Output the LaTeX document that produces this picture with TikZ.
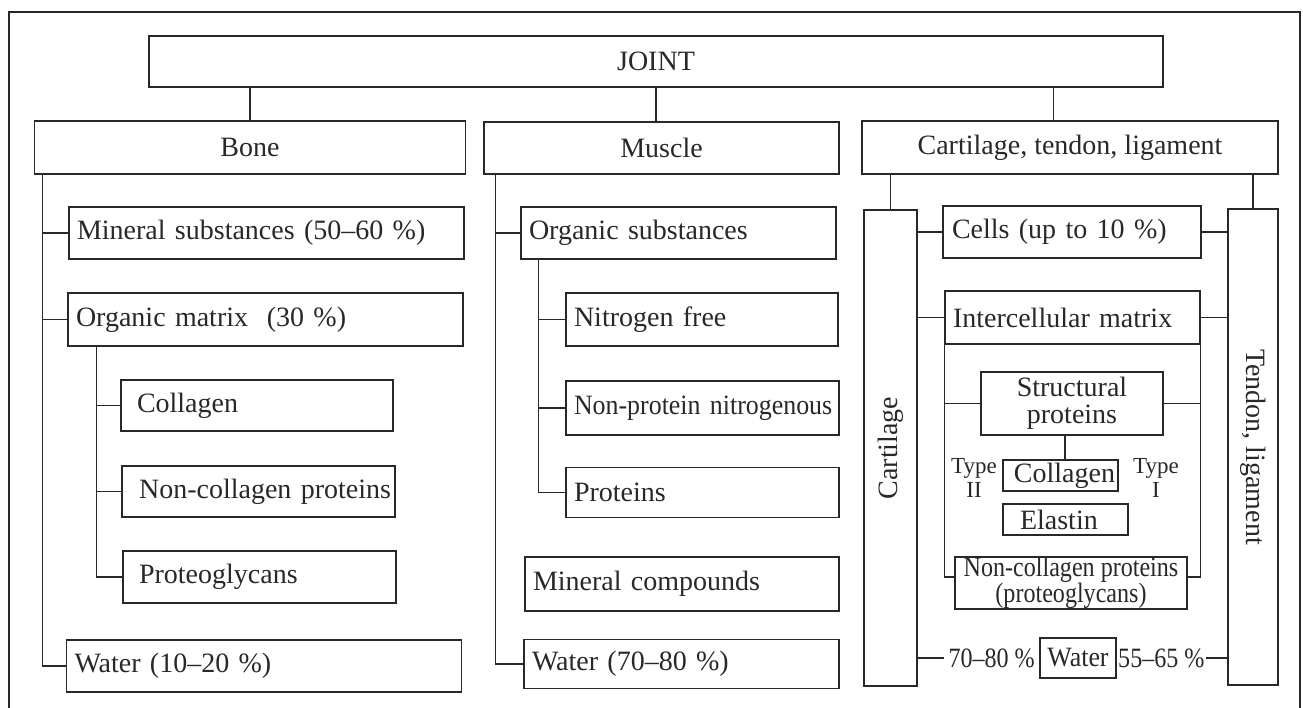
\documentclass[tikz,border=0pt]{standalone}
\usepackage{fontspec}
\setmainfont{Liberation Serif}
\newfontfamily\tightserif[FakeStretch=0.925]{Liberation Serif}
\newfontfamily\condserif[FakeStretch=0.86]{Liberation Serif}
\usepackage{tikz}
\definecolor{inkgray}{RGB}{40,40,40}

\begin{document}
\begin{tikzpicture}[x=1pt,y=-1pt,color=inkgray,line width=1.2pt,
    box/.style={draw,inner sep=0pt,minimum height=52pt,font=\fontsize{28}{27}\selectfont},
    lbox/.style={box,inner xsep=8pt,text width=#1,align=left},
    cbox/.style={box,minimum width=#1},
    side/.style={box,minimum width=476pt},
    pct/.style={inner xsep=1pt,inner ysep=0pt,font=\fontsize{28}{25}\condserif},
    typelab/.style={inner sep=0pt,align=center,font=\fontsize{23}{24}\selectfont}]
  \useasboundingbox (0,0) rectangle (1303,708);
  \draw (9,708) -- (9,12) -- (1300,12) -- (1300,708);
  % top level
  \node[cbox=1014pt,minimum height=51pt] (joint) at (656,61.5) {JOINT};
  \node[cbox=431pt,minimum height=53pt] (bone) at (250,147.5) {Bone};
  \node[cbox=355pt] (muscle) at (661.5,148) {Muscle};
  \node[cbox=416pt,minimum height=53pt] (ctl) at (1070,147.5) {Cartilage, tendon, ligament};
  \coordinate (ct) at ([xshift=-16.5pt]ctl.north);
  \draw (bone.north) -- (bone.north |- joint.south);
  \draw (joint.south) -- (joint.south |- muscle.north);
  \draw (ct) -- (ct |- joint.south);
  % bone
  \node[lbox=379pt] (bmin) at (266.5,233) {Mineral substances (50–60~\%)};
  \node[lbox=379pt,minimum height=53pt] (bmat) at (265.5,319.5) {Organic matrix\ \ (30~\%)};
  \node[lbox=240pt,inner xsep=16pt,minimum height=51pt] (bcol) at (257,405.5) {Collagen};
  \node[box,inner xsep=4pt,text width=265pt,align=right,minimum height=51pt] (bnon) at (258.5,491.5) {Non-collagen proteins};
  \node[lbox=241pt,inner xsep=16pt] (bpg) at (259.5,577) {Proteoglycans};
  \node[lbox=379pt] (bwat) at (264,666) {Water (10–20~\%)};
  \coordinate (bt) at ([xshift=8.5pt]bone.south west);
  \draw (bt) |- (bwat.west);
  \foreach \k in {bmin,bmat}
    \draw (bt |- \k.west) -- (\k.west);
  \coordinate (mt) at ([xshift=29pt]bmat.south west);
  \draw (mt) |- (bpg.west);
  \foreach \k in {bcol,bnon}
    \draw (mt |- \k.west) -- (\k.west);
  % muscle
  \node[lbox=299pt] (morg) at (678.5,233) {Organic substances};
  \node[lbox=256pt,minimum height=53pt] (mnf) at (702,319.5) {Nitrogen free};
  \node[lbox=257pt,minimum height=54pt,font=\fontsize{28}{27}\tightserif] (mnp) at (702.5,408) {\mbox{Non-protein nitrogenous}};
  \node[lbox=257pt,minimum height=50pt] (mpro) at (702.5,492.5) {Proteins};
  \node[lbox=298pt,minimum height=54pt] (mmin) at (682,584) {Mineral compounds};
  \node[lbox=299pt,minimum height=49pt] (mwat) at (681.5,664) {Water (70–80~\%)};
  \coordinate (mut) at ([xshift=12pt]muscle.south west);
  \draw (mut) |- (mwat.west);
  \draw (mut |- morg.west) -- (morg.west);
  \coordinate (ot) at ([xshift=18pt]morg.south west);
  \draw (ot) |- (mpro.west);
  \foreach \k in {mnf,mnp}
    \draw (ot |- \k.west) -- (\k.west);
  % cartilage, tendon, ligament
  \node[side,minimum height=53pt,rotate=90] (cart) at (890.5,448) {Cartilage};
  \node[side,minimum height=50pt,rotate=-90] (tend) at (1253,447) {Tendon, ligament};
  \draw (cart.east) -- (cart.east |- ctl.south);
  \draw (tend.west) -- (tend.west |- ctl.south);
  \node[lbox=240pt,inner xsep=9pt] (cells) at (1072,232) {Cells (up to 10~\%)};
  \node[lbox=239pt,minimum height=53pt] (icm) at (1072.5,317.5) {Intercellular matrix};
  \foreach \k in {cells,icm} {
    \draw (\k.west) -- (\k.west -| cart.south);
    \draw (\k.east) -- (\k.east -| tend.south);
  }
  \node[cbox=182pt,minimum height=63pt,align=center] (sp) at (1072,403.5) {Structural\\proteins};
  \node[box,minimum height=31pt,inner xsep=3pt,text width=109pt,align=right] (rcol) at (1060.5,475.5) {Collagen};
  \node[box,minimum height=31pt,inner xsep=17pt,text width=91pt,align=left] (relas) at (1065.5,519.5) {Elastin};
  \node[cbox=232pt,align=center,font=\fontsize{28}{24}\condserif] (ncp) at (1071,583) {Non-collagen proteins\\(proteoglycans)};
  \node[typelab] (t2) at (974,478) {Type\\II};
  \node[typelab] (t1) at (1156,478) {Type\\I};
  \path ([xshift=-7pt]sp.south) coordinate (spb);
  \draw (spb) -- (spb |- rcol.north);
  \draw (sp.west) -- (sp.west -| icm.south west);
  \draw (sp.east) -- (sp.east -| icm.south east);
  \draw (icm.south west) |- ([yshift=6pt]ncp.west);
  \draw (icm.south east) |- ([yshift=6pt]ncp.east);
  % water
  \node[cbox=76pt,minimum height=40pt,font=\fontsize{28}{25}\tightserif] (rwat) at (1078,658) {Water};
  \node[pct,anchor=east,inner xsep=4pt] (pleft) at (rwat.west) {70–80~\%};
  \node[pct,anchor=west] (pright) at (rwat.east) {55–65~\%};
  \draw (pleft.west) -- (pleft.west -| cart.south);
  \draw (pright.east) -- (pright.east -| tend.south);
\end{tikzpicture}
\end{document}
